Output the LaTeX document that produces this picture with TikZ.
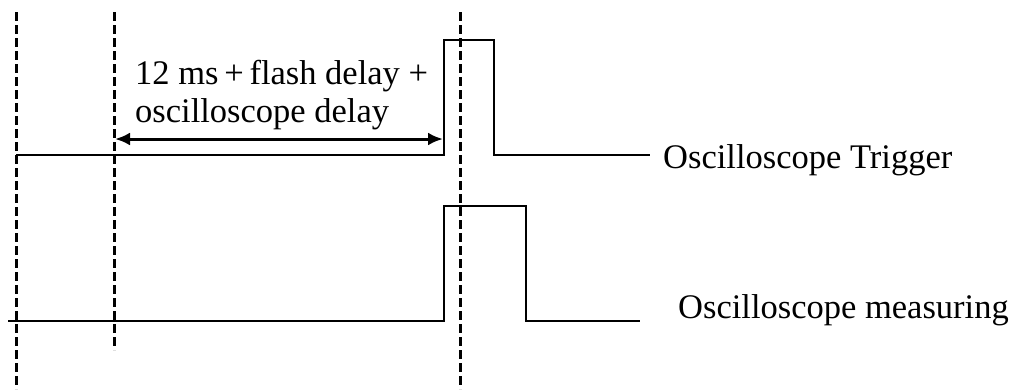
\documentclass[tikz,border=0pt]{standalone}
\usepackage{fontspec}
\setmainfont{Liberation Serif}
\usetikzlibrary{arrows.meta}
\begin{document}
\begin{tikzpicture}[x=1pt,y=-1pt,
  guide/.style={line width=3pt, dash pattern=on 9pt off 4pt},
  signal/.style={line width=2.2pt, line join=miter},
  span/.style={line width=3pt, {Latex[length=15pt,width=13pt]}-{Latex[length=15pt,width=13pt]}},
  lbl/.style={font=\fontsize{34.5}{40}\selectfont, inner sep=0pt}]
\useasboundingbox (0,0) rectangle (1016,389);
\fill[white] (0,0) rectangle (1016,389);
% guides
\coordinate (g1t) at (16,12);  \coordinate (g1b) at (16,389);
\coordinate (g2t) at (114,12); \coordinate (g2b) at (114,350);
\coordinate (g3t) at (460,12); \coordinate (g3b) at (460,389);
\draw[guide] (g1t) -- (g1b);
\draw[guide] (g2t) -- (g2b);
\draw[guide] (g3t) -- (g3b);
% trigger signal
\coordinate (t0) at (16,155);
\coordinate (t1) at (444,155);
\coordinate (t2) at (444,40);
\coordinate (t3) at (494,40);
\coordinate (t4) at (494,155);
\coordinate (t5) at (650,155);
\draw[signal] (t0) -- (t1) -- (t2) -- (t3) -- (t4) -- (t5);
% measuring signal
\coordinate (m0) at (8,321);
\coordinate (m1) at (444,321);
\coordinate (m2) at (444,206);
\coordinate (m3) at (526,206);
\coordinate (m4) at (526,321);
\coordinate (m5) at (640,321);
\draw[signal] (m0) -- (m1) -- (m2) -- (m3) -- (m4) -- (m5);
% span arrow
\coordinate (a1) at (115,139);
\coordinate (a2) at (443,139);
\draw[span] (a1) -- (a2);
\node[lbl, anchor=base west] (l1) at (135,84) {12 ms\,+\,flash delay +};
\node[lbl, anchor=base west] (l2) at (135,122) {oscilloscope delay};
\node[lbl, anchor=base west] (trig) at (663,168) {Oscilloscope Trigger};
\node[lbl, anchor=base west] (meas) at (678,318) {Oscilloscope measuring};
\end{tikzpicture}
\end{document}
